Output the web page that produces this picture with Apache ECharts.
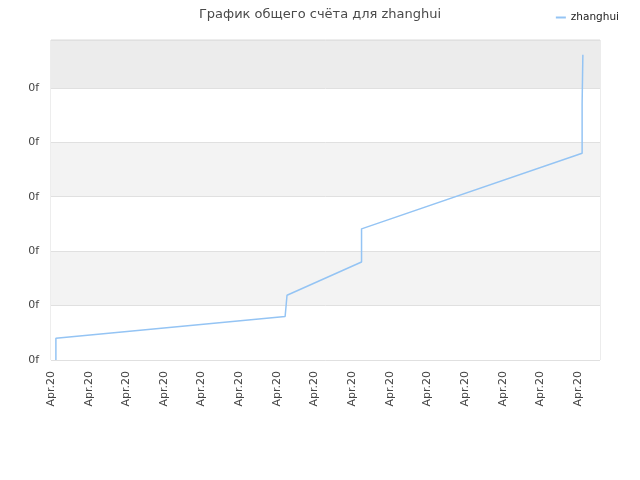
<!DOCTYPE html>
<html>
<head>
<meta charset="utf-8">
<script src="https://cdn.jsdelivr.net/npm/echarts@6/dist/echarts.min.js"></script>
<style>html,body{margin:0;padding:0;background:#fff}#c{width:640px;height:480px}</style>
</head>
<body>
<div id="c"></div>
<script>
const titleText = 'График общего счёта для zhanghui';
const seriesName = 'zhanghui';
const xTickLabel = 'Apr.20';
const yTickLabel = '0f';
// x in tick units (one tick per label), y in gridline units
const xValues = [0.13, 0.13, 6.22, 6.27, 8.25, 8.25, 14.11, 14.11, 14.13, 14.13];
const yValues = [0.00, 0.40, 0.80, 1.19, 1.80, 2.41, 3.80, 4.70, 4.70, 5.61];
const xMax = 14.585;
const yMax = 5.88;

const data = xValues.map((x, i) => [x, yValues[i]]);
const chart = echarts.init(document.getElementById('c'), null, {renderer: 'canvas'});
chart.setOption({
  animation: false,
  backgroundColor: '#fff',
  textStyle: {fontFamily: 'DejaVu Sans'},
  title: {
    text: titleText, left: 'center', top: 3,
    textStyle: {fontSize: 13, fontWeight: 'normal', color: '#4a4a4a', fontFamily: 'DejaVu Sans'}
  },
  legend: {
    right: 16, top: 7, icon: 'rect', itemWidth: 10, itemHeight: 2, itemGap: 5,
    textStyle: {fontSize: 10.5, color: '#222', fontFamily: 'DejaVu Sans'},
    data: [seriesName]
  },
  grid: {
    left: 51, right: 40, top: 40, bottom: 120,
    show: true, backgroundColor: '#ececec', borderColor: '#dadada', borderWidth: 1
  },
  xAxis: {
    type: 'value', min: 0, max: xMax, interval: 1,
    axisLine: {show: false}, axisTick: {show: false}, splitLine: {show: false},
    axisLabel: {
      rotate: 90, margin: 11, fontSize: 11, color: '#444', showMaxLabel: false,
      fontFamily: 'DejaVu Sans', formatter: () => xTickLabel
    }
  },
  yAxis: {
    type: 'value', min: 0, max: yMax, interval: 1,
    axisLine: {show: false}, axisTick: {show: false},
    splitLine: {show: true, lineStyle: {color: '#e0e0e0', width: 1}},
    splitArea: {show: true, areaStyle: {color: ['#ffffff', '#f3f3f3', '#ffffff', '#f3f3f3', '#ffffff', '#ececec']}},
    axisLabel: {
      margin: 12, fontSize: 11, color: '#444', showMaxLabel: false,
      fontFamily: 'DejaVu Sans', formatter: () => yTickLabel
    }
  },
  series: [{
    name: seriesName, type: 'line', data: data,
    showSymbol: false, symbol: 'none',
    lineStyle: {color: '#94c4f4', width: 1.5},
    itemStyle: {color: '#94c4f4'}
  }]
});
</script>
</body>
</html>
